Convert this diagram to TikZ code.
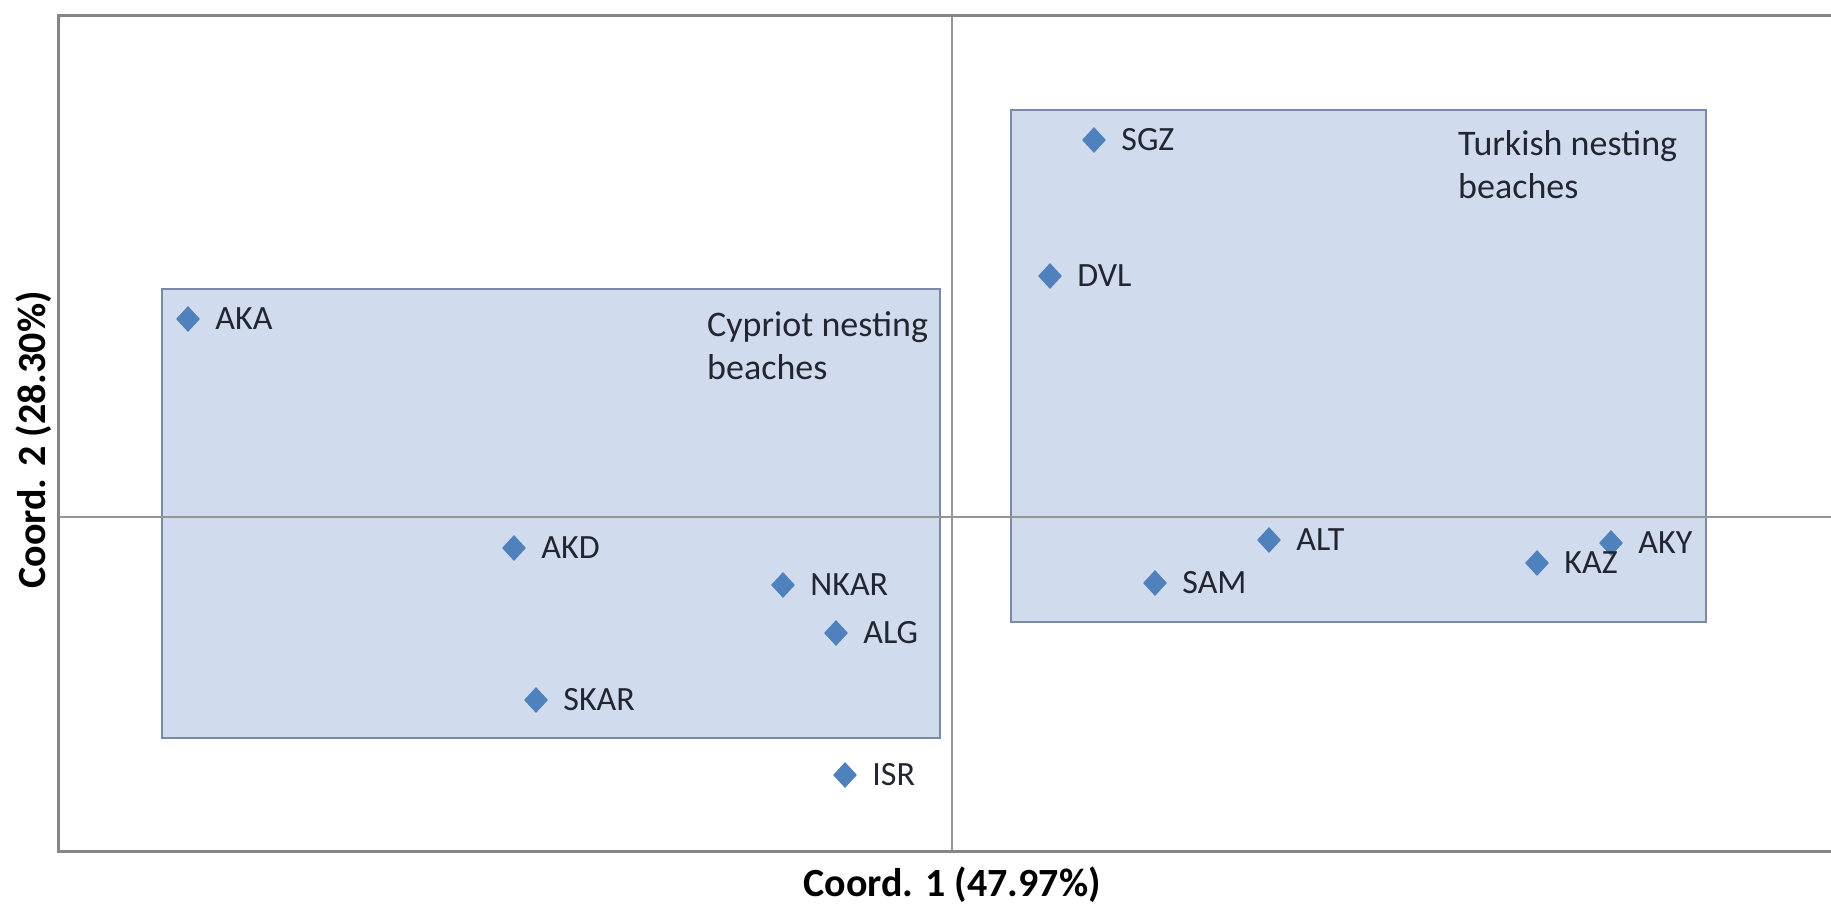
\documentclass[tikz,border=0pt]{standalone}
\usepackage{fontspec}
\setmainfont{Carlito}
\usetikzlibrary{shapes.geometric,positioning}
\definecolor{markblue}{RGB}{79,129,189}
\definecolor{boxfill}{RGB}{208,220,238}
\definecolor{boxline}{RGB}{122,138,166}
\definecolor{framegray}{RGB}{134,134,134}
\definecolor{axisgray}{RGB}{150,150,150}
\definecolor{txtdark}{RGB}{35,38,48}
\begin{document}
\begin{tikzpicture}[x=1pt,y=-1pt,
    pt/.style={diamond,fill=markblue,inner sep=0pt,minimum width=24pt,minimum height=26pt},
    lbl/.style={text=txtdark,inner sep=0pt,font=\fontsize{34}{41}\selectfont},
    grp/.style={text=txtdark,inner sep=0pt,align=left,anchor=north west,font=\fontsize{36}{43}\selectfont},
    grpbox/.style={fill=boxfill,draw=boxline,line width=2.2pt},
    ttl/.style={text=black,inner sep=0pt,font=\fontsize{40}{44}\selectfont\bfseries}]
    \useasboundingbox (0,0) rectangle (1831,905);

    % groups of beaches
    \draw[grpbox] (162,289) rectangle (940,738);
    \draw[grpbox] (1011,110) rectangle (1706,622);

    % frame and axes
    \coordinate (tl) at (58,15);
    \coordinate (tr) at (1831,15);
    \coordinate (bl) at (58,851);
    \coordinate (br) at (1831,851);
    \coordinate (xt) at (952,15);
    \coordinate (xb) at (952,851);
    \coordinate (yl) at (58,517);
    \coordinate (yr) at (1831,517);
    \draw[axisgray,line width=1.4pt] (xt) -- (xb);
    \draw[axisgray,line width=1.4pt] (yl) -- (yr);
    \draw[framegray,line width=3pt] (tr) -- (tl) -- (bl) -- (br);

    % beaches
    \node[pt] (aka) at (188,319) {};
    \node[pt] (akd) at (514,548) {};
    \node[pt] (nkar) at (783,585) {};
    \node[pt] (alg) at (836,633) {};
    \node[pt] (skar) at (536,700) {};
    \node[pt] (isr) at (845,775) {};
    \node[pt] (sgz) at (1094,140) {};
    \node[pt] (dvl) at (1050,276) {};
    \node[pt] (alt) at (1269,540) {};
    \node[pt] (sam) at (1155,583) {};
    \node[pt] (kaz) at (1537,563) {};
    \node[pt] (aky) at (1611,543) {};

    \node[lbl,right=15pt of aka] (aka-t) {AKA};
    \node[lbl,right=15pt of akd] (akd-t) {AKD};
    \node[lbl,right=15pt of nkar] (nkar-t) {NKAR};
    \node[lbl,right=15pt of alg] (alg-t) {ALG};
    \node[lbl,right=15pt of skar] (skar-t) {SKAR};
    \node[lbl,right=15pt of isr] (isr-t) {ISR};
    \node[lbl,right=15pt of sgz] (sgz-t) {SGZ};
    \node[lbl,right=15pt of dvl] (dvl-t) {DVL};
    \node[lbl,right=15pt of alt] (alt-t) {ALT};
    \node[lbl,right=15pt of sam] (sam-t) {SAM};
    \node[lbl,right=15pt of kaz] (kaz-t) {KAZ};
    \node[lbl,right=15pt of aky] (aky-t) {AKY};

    \node[grp] (cyprus) at (707,311) {Cypriot nesting\\beaches};
    \node[grp] (turkey) at (1458,130) {Turkish nesting\\beaches};

    % axis titles
    \node[ttl] (xtitle) at (952,885) {Coord. 1 (47.97\%)};
    \node[ttl,rotate=90] (ytitle) at (34,440) {Coord. 2 (28.30\%)};
\end{tikzpicture}
\end{document}
